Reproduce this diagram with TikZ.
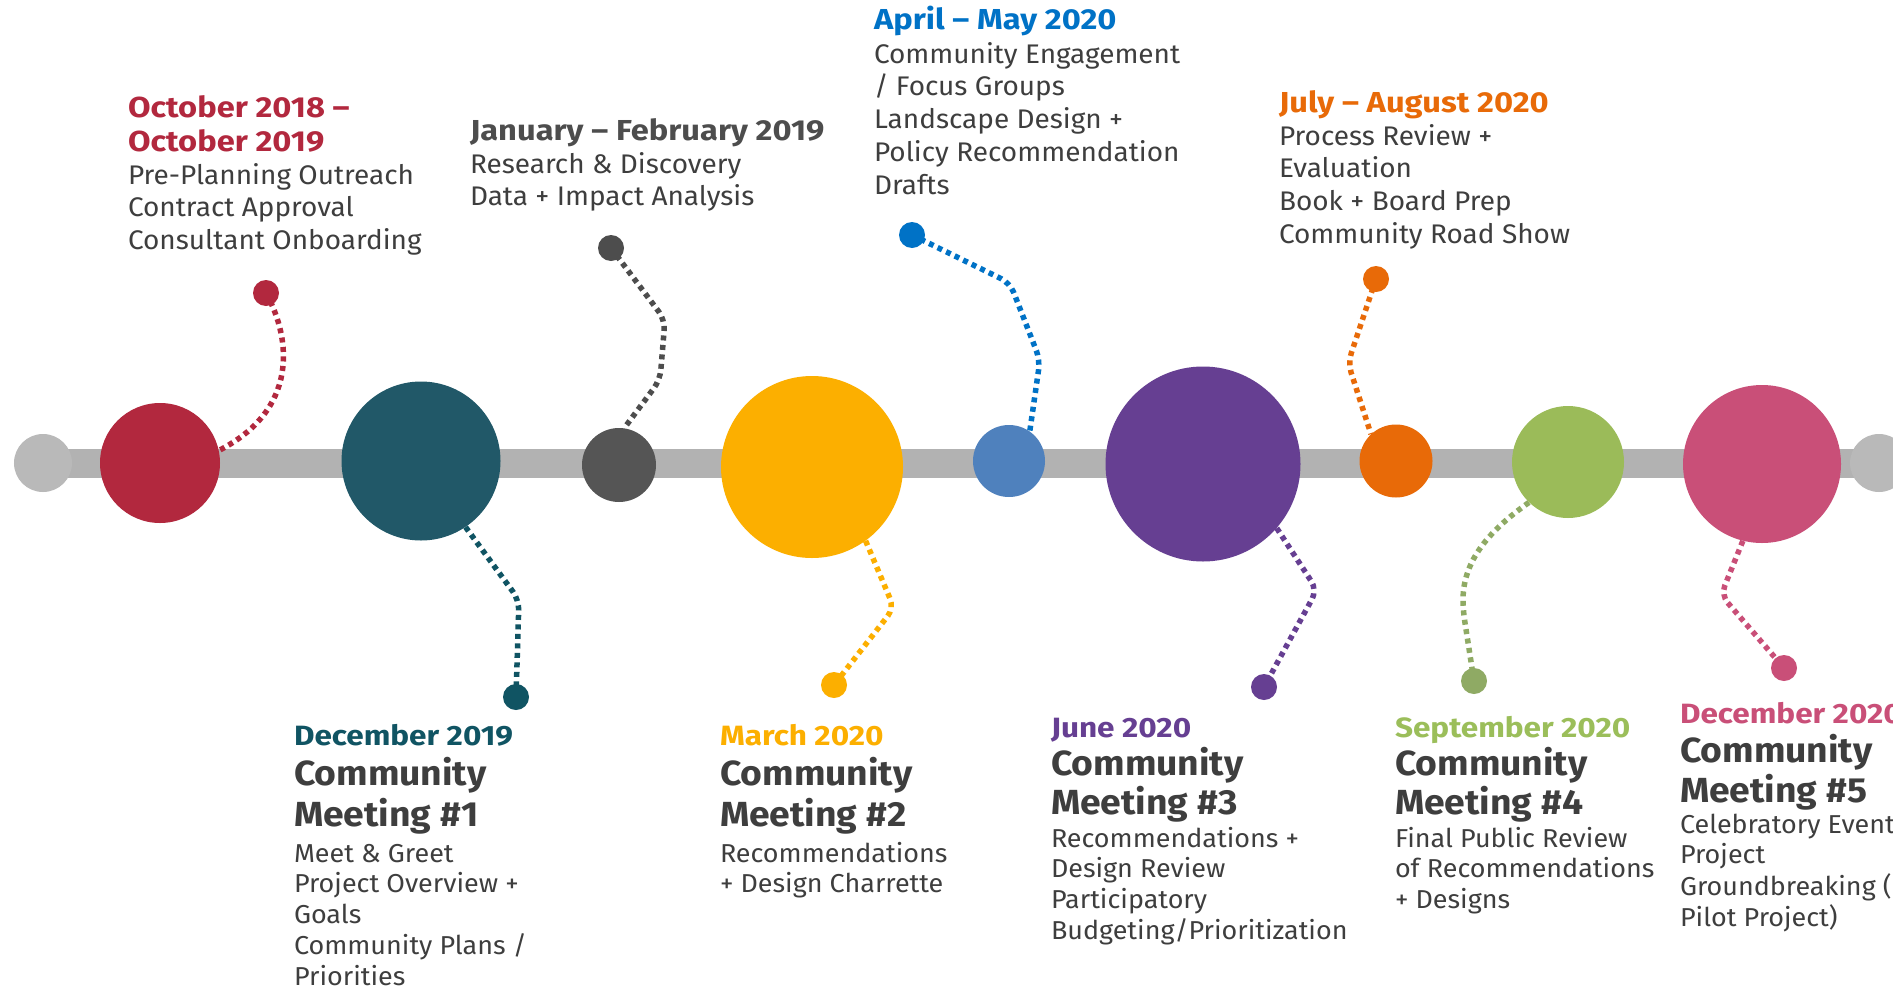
\documentclass[tikz,border=0pt]{standalone}
\usepackage{fontspec}
\setmainfont{Fira Sans}[FakeStretch=1.04]
\newfontfamily\wideb{Fira Sans}[FakeStretch=1.13]
\newfontfamily\headb{Fira Sans}[FakeStretch=1.07]
\usetikzlibrary{backgrounds}
\definecolor{barg}{RGB}{178,178,178}
\definecolor{endg}{RGB}{185,185,185}
\definecolor{cred}{RGB}{178,40,62}
\definecolor{cteal}{RGB}{33,88,104}
\definecolor{tteal}{RGB}{16,84,99}
\definecolor{cdgray}{RGB}{85,85,85}
\definecolor{tdgray}{RGB}{77,77,77}
\definecolor{cyel}{RGB}{252,175,0}
\definecolor{cblue}{RGB}{79,129,189}
\definecolor{tblue}{RGB}{0,114,198}
\definecolor{cpurp}{RGB}{102,63,146}
\definecolor{corng}{RGB}{232,106,8}
\definecolor{cgreen}{RGB}{155,187,89}
\definecolor{tgreen}{RGB}{155,190,90}
\definecolor{dgreen}{RGB}{143,170,100}
\definecolor{cpink}{RGB}{201,79,120}
\definecolor{bodyc}{RGB}{62,62,62}
\newcommand\blk[1]{\begin{tabular}[t]{@{}l@{}}#1\end{tabular}}
\newcommand\fTop{\wideb\fontsize{29}{35}\selectfont\bfseries}
\newcommand\fBodyT{\fontsize{27}{33}\selectfont}
\newcommand\fBodyB{\fontsize{26}{31}\selectfont}
\newcommand\fDate{\wideb\fontsize{28}{34}\selectfont\bfseries}
\tikzset{
  bar/.style={draw=barg, line width=29bp},
  disc/.style={circle, inner sep=0pt, fill=#1},
  dotn/.style={circle, inner sep=0pt, minimum size=26bp, fill=#1},
  conn/.style={draw=#1, line width=5.5bp, dash pattern=on 5bp off 4.5bp, rounded corners=10bp},
  txt/.style={anchor=base west, inner sep=0pt, outer sep=0pt, text=bodyc},
  datet/.style={txt, font=\fDate, text=#1},
  topt/.style={txt, font=\fTop, text=#1},
}
\begin{document}
\begin{tikzpicture}[x=1bp,y=-1bp]
\useasboundingbox (0,0) rectangle (1893,989);
\clip (0,0) rectangle (1893,989);
% timeline circles
\node[disc=endg, minimum size=58bp] (c0) at (43,463) {};
\node[disc=cred, minimum size=120bp] (c1) at (160,463) {};
\node[disc=cteal, minimum size=159bp] (c2) at (421,461) {};
\node[disc=cdgray, minimum size=74bp] (c3) at (619,465) {};
\node[disc=cyel, minimum size=182bp] (c4) at (812,467) {};
\node[disc=cblue, minimum size=72bp] (c5) at (1009,461) {};
\node[disc=cpurp, minimum size=195bp] (c6) at (1203,464) {};
\node[disc=corng, minimum size=73bp] (c7) at (1396,461) {};
\node[disc=cgreen, minimum size=112bp] (c8) at (1568,462) {};
\node[disc=cpink, minimum size=158bp] (c9) at (1762,464) {};
\node[disc=endg, minimum size=58bp] (c10) at (1879,463) {};
% dots
\node[dotn=cred] (d1) at (266,293) {};
\node[dotn=tteal] (d2) at (516,697) {};
\node[dotn=tdgray] (d3) at (611,248) {};
\node[dotn=cyel] (d4) at (834,685) {};
\node[dotn=tblue] (d5) at (912,235) {};
\node[dotn=cpurp] (d6) at (1264,687) {};
\node[dotn=corng] (d7) at (1376,279) {};
\node[dotn=dgreen] (d8) at (1474,681) {};
\node[dotn=cpink] (d9) at (1784,668) {};
\begin{scope}[on background layer]
\fill[white] (0,0) rectangle (1893,989);
\draw[bar] (c0.center) -- (c10.center);
\draw[conn=cred] (d1.center) .. controls (292,340) and (298,410) .. (c1.12);
\draw[conn=tdgray] (d3.center) -- (665,320) -- (660,380) -- (c3.82);
\draw[conn=tblue] (d5.center) -- (1010,283) -- (1040,360) -- (c5.55);
\draw[conn=corng] (d7.center) -- (1348,363) -- (c7.133);
\draw[conn=tteal] (c2.-56) -- (519,600) -- (d2.center);
\draw[conn=cyel] (c4.-54) -- (894,608) -- (d4.center);
\draw[conn=cpurp] (c6.-41) -- (1317,590) -- (d6.center);
\draw[conn=dgreen] (c8.-134) .. controls (1490,530) and (1463,560) .. (1463,610) -- (d8.center);
\draw[conn=cpink] (c9.-104) -- (1721,595) -- (d9.center);
\end{scope}
% top texts
\node[topt=cred] (tA) at (128,117) {\blk{October 2018 –\\October 2019}};
\node[txt, font=\fBodyT] (bA) at (128,184) {\blk{Pre-Planning Outreach\\Contract Approval\\Consultant Onboarding}};
\node[topt=tdgray] (tB) at (470,140) {January – February 2019};
\node[txt, font=\fBodyT] (bB) at (470,173) {\blk{Research \& Discovery\\Data + Impact Analysis}};
\node[topt=tblue] (tC) at (874,29) {April – May 2020};
\node[txt, font=\fBodyT] (bC) at (874,63) {\blk{Community Engagement\\/ Focus Groups\\Landscape Design +\\Policy Recommendation\\Drafts}};
\node[topt=corng] (tD) at (1279,112) {July – August 2020};
\node[txt, font=\fBodyT] (bD) at (1279,145) {\blk{Process Review +\\Evaluation\\Book + Board Prep\\Community Road Show}};
% bottom texts
\node[datet=tteal] (tE) at (294,745) {December 2019};
\node[txt, font=\headb\fontsize{35}{42}\selectfont\bfseries] (hE) at (294,785) {\blk{Community\\Meeting \#1}};
\node[txt, font=\fBodyB] (bE) at (294,862) {\blk{Meet \& Greet\\Project Overview +\\Goals\\Community Plans /\\Priorities}};
\node[datet=cyel] (tF) at (720,745) {March 2020};
\node[txt, font=\headb\fontsize{35}{42}\selectfont\bfseries] (hF) at (720,785) {\blk{Community\\Meeting \#2}};
\node[txt, font=\fBodyB] (bF) at (720,862) {\blk{Recommendations\\+ Design Charrette}};
\node[datet=cpurp] (tG) at (1051,737) {June 2020};
\node[txt, font=\headb\fontsize{35}{38}\selectfont\bfseries] (hG) at (1051,775) {\blk{Community\\Meeting \#3}};
\node[txt, font=\fBodyB] (bG) at (1051,847) {\blk{Recommendations +\\Design Review\\Participatory\\Budgeting/Prioritization}};
\node[datet=tgreen] (tH) at (1395,737) {September 2020};
\node[txt, font=\headb\fontsize{35}{38}\selectfont\bfseries] (hH) at (1395,775) {\blk{Community\\Meeting \#4}};
\node[txt, font=\fBodyB] (bH) at (1395,847) {\blk{Final Public Review\\of Recommendations\\+ Designs}};
\node[datet=cpink] (tI) at (1680,723) {December 2020};
\node[txt, font=\headb\fontsize{35}{40}\selectfont\bfseries] (hI) at (1680,762) {\blk{Community\\Meeting \#5}};
\node[txt, font=\fBodyB] (bI) at (1680,833) {\blk{Celebratory Event\\Project\\Groundbreaking (\\Pilot Project)}};
\end{tikzpicture}
\end{document}
